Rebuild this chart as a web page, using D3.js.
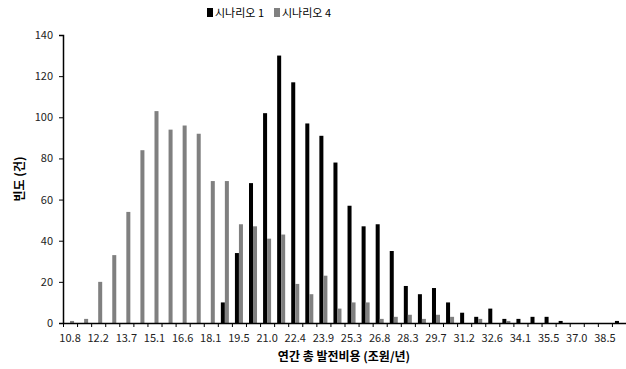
<!DOCTYPE html>
<html>
<head>
<meta charset="utf-8">
<script src="https://cdn.jsdelivr.net/npm/d3@7"></script>
<style>
  body { margin: 0; background: #fff; }
  text { font-family: "Noto Sans CJK KR", "Noto Sans", sans-serif; }
</style>
</head>
<body>
<div id="chart"></div>
<script>
// bins (annual total generation cost, trillion won / year)
var bins = ["10.8","11.5","12.2","12.9","13.7","14.4","15.1","15.8","16.6","17.3",
            "18.1","18.8","19.5","20.2","21.0","21.7","22.4","23.2","23.9","24.6",
            "25.3","26.1","26.8","27.5","28.3","29.0","29.7","30.4","31.2","31.9",
            "32.6","33.4","34.1","34.8","35.5","36.3","37.0","37.7","38.5","39.2"];

var scenario1 = [0,0,0,0,0,0,0,0,0,0,
                 0,10,34,68,102,130,117,97,91,78,
                 57,47,48,35,18,14,17,10,5,3,
                 7,2,2,3,3,1,0,0,0,1];

var scenario4 = [1,2,20,33,54,84,103,94,96,92,
                 69,69,48,47,41,43,19,14,23,7,
                 10,10,2,3,4,2,4,3,0,2,
                 0,1,0,0,0,0,0,0,0,0];

var seriesNames = ["시나리오 1", "시나리오 4"];
var seriesColors = ["#000000", "#808080"];
var yTicks = [0, 20, 40, 60, 80, 100, 120, 140];

var W = 626, H = 369;
var margin = {top: 35, right: 0, bottom: 46, left: 63};
var width = W - margin.left - margin.right,
    height = H - margin.top - margin.bottom;

var svg = d3.select("#chart")
  .append("svg")
    .attr("width", W)
    .attr("height", H);

var g = svg.append("g")
    .attr("transform", "translate(" + margin.left + "," + margin.top + ")");

var rows = bins.map(function(b, i) {
  return {bin: b, values: [scenario1[i], scenario4[i]]};
});

// X scales
var x = d3.scaleBand()
  .domain(bins)
  .range([0, width])
  .paddingInner(0.43)
  .paddingOuter(0.215);

var xSub = d3.scaleBand()
  .domain([0, 1])
  .range([0, x.bandwidth()]);

// Y scale
var y = d3.scaleLinear()
  .domain([0, 140])
  .range([height, 0]);

// Bars
var groups = g.selectAll(".grp")
  .data(rows)
  .enter()
  .append("g")
    .attr("transform", function(d) { return "translate(" + x(d.bin) + ",0)"; });

groups.selectAll("rect")
  .data(function(d) { return d.values; })
  .enter()
  .append("rect")
    .attr("x", function(d, i) { return xSub(i); })
    .attr("y", function(d) { return y(d); })
    .attr("width", xSub.bandwidth())
    .attr("height", function(d) { return height - y(d); })
    .attr("fill", function(d, i) { return seriesColors[i]; });

// Y axis
var yAxis = g.append("g")
  .call(d3.axisLeft(y).tickValues(yTicks).tickSize(4).tickPadding(6));
yAxis.select(".domain").attr("stroke", "#000").attr("stroke-width", 1.5);
yAxis.selectAll("text").style("font-size", "11px").attr("fill", "#222");

// X axis: ticks at bin edges, labels on every other bin
var xEdge = d3.scaleLinear().domain([0, bins.length]).range([0, width]);
var xAxis = g.append("g")
  .attr("transform", "translate(0," + height + ")")
  .call(d3.axisBottom(xEdge).tickValues(d3.range(bins.length + 1)).tickSize(4).tickFormat("").tickSizeOuter(0));
xAxis.select(".domain").attr("stroke", "#000").attr("stroke-width", 1.5);

g.append("g")
  .selectAll("text")
  .data(bins.filter(function(d, i) { return i % 2 === 0; }))
  .enter()
  .append("text")
    .attr("x", function(d) { return x(d) + x.bandwidth() / 2; })
    .attr("y", height + 19)
    .attr("text-anchor", "middle")
    .style("font-size", "11px")
    .attr("fill", "#222")
    .text(function(d) { return d; });

// axis titles
svg.append("text")
  .attr("x", 344)
  .attr("y", 361)
  .attr("text-anchor", "middle")
  .style("font-size", "12px")
  .style("font-weight", "bold")
  .text("연간 총 발전비용 (조원/년)");

svg.append("text")
  .attr("transform", "translate(24," + (margin.top + height / 2) + ") rotate(-90)")
  .attr("text-anchor", "middle")
  .style("font-size", "12px")
  .style("font-weight", "bold")
  .text("빈도 (건)");

// legend
var legend = svg.append("g").attr("transform", "translate(207,8)");
var lx = [0, 67];
seriesNames.forEach(function(name, i) {
  legend.append("rect")
    .attr("x", lx[i]).attr("y", 0)
    .attr("width", 6).attr("height", 9)
    .attr("fill", seriesColors[i]);
  legend.append("text")
    .attr("x", lx[i] + 8).attr("y", 9)
    .style("font-size", "11px")
    .text(name);
});
</script>
</body>
</html>
